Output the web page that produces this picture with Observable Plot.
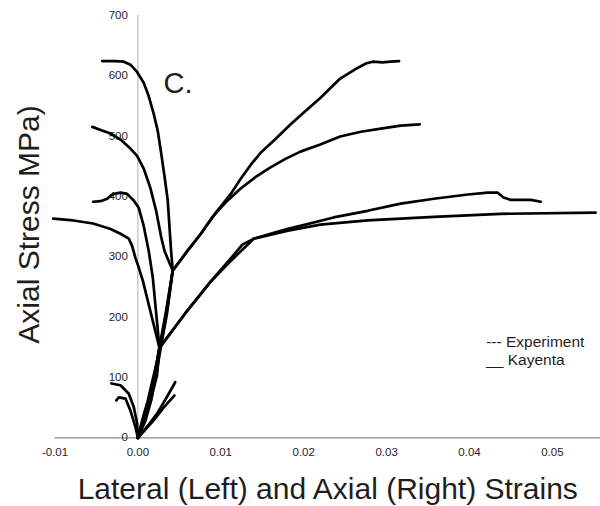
<!DOCTYPE html>
<html>
<head>
<meta charset="utf-8">
<script src="https://cdn.jsdelivr.net/npm/d3@7"></script>
<script src="https://cdn.jsdelivr.net/npm/@observablehq/plot@0.6"></script>
<style>
  html, body { margin: 0; padding: 0; background: #fff; }
  #chart { width: 600px; height: 506px; }
</style>
</head>
<body>
<div id="chart"></div>
<script>
// ---- Data: [strain, axial stress MPa] ----
const axial625 = [[0,0],[0.0007,28],[0.0014,62],[0.0021,103],[0.0026,145],[0.0034,205],[0.0042,277],
  [0.0060,310],[0.0076,338],[0.0094,373],[0.0112,404],[0.0124,429],[0.0136,452],[0.0148,472],
  [0.0166,495],[0.0184,519],[0.0196,534],[0.0220,563],[0.0244,595],[0.0263,611],[0.0275,620],
  [0.0283,623],[0.0295,622],[0.0305,623],[0.0315,624]];
const axial520 = [[0,0],[0.0005,28],[0.0012,62],[0.0019,103],[0.0027,150],[0.0035,210],[0.0042,277],
  [0.0060,310],[0.0076,338],[0.0090,366],[0.0106,390],[0.0124,413],[0.0144,434],[0.0160,448],
  [0.0178,462],[0.0196,474],[0.0220,486],[0.0244,499],[0.0269,507],[0.0293,512],[0.0317,517],[0.0340,519]];
const axial400 = [[0,0],[0.0009,28],[0.0016,62],[0.0022,103],[0.0026,149],[0.0057,206],[0.0088,259],
  [0.0112,297],[0.0126,320],[0.0140,330],[0.0160,338],[0.0181,346],[0.0196,351],[0.0236,365],
  [0.0277,376],[0.0317,388],[0.0357,396],[0.0398,403],[0.0422,406],[0.0434,406],[0.0441,398],
  [0.0450,394],[0.0474,394],[0.0486,391]];
const axial370 = [[0,0],[0.0007,28],[0.0014,62],[0.0021,103],[0.0026,149],[0.0057,206],[0.0088,259],
  [0.0112,293],[0.0140,330],[0.0181,343],[0.0220,353],[0.0277,360],[0.0357,366],[0.0438,371],[0.0552,373]];
const lateral625 = [[0,0],[0.0007,28],[0.0014,62],[0.0022,103],[0.0027,145],[0.0035,205],[0.0042,277],
  [0.0040,310],[0.0038,351],[0.0036,393],[0.0032,434],[0.0028,472],[0.0024,508],[0.0019,537],
  [0.0013,566],[0.0007,588],[-0.0001,606],[-0.0009,618],[-0.0017,623],[-0.0027,624],[-0.0043,624]];
const lateral520 = [[0,0],[0.0006,28],[0.0013,62],[0.0020,103],[0.0026,150],[0.0034,210],[0.0042,277],
  [0.0038,290],[0.0032,310],[0.0028,333],[0.0022,376],[0.0015,414],[0.0007,446],[-0.0001,467],
  [-0.0009,479],[-0.0021,494],[-0.0033,504],[-0.0045,510],[-0.0055,515]];
const lateral400 = [[0,0],[0.0008,28],[0.0015,62],[0.0023,103],[0.0026,149],[0.0018,265],[0.0013,310],
  [0.0007,351],[0.0001,381],[-0.0005,393],[-0.0013,404],[-0.0021,406],[-0.0029,404],[-0.0033,401],
  [-0.0037,396],[-0.0045,392],[-0.0054,391]];
const lateral370 = [[0,0],[0.0006,28],[0.0013,62],[0.0020,103],[0.0026,149],[0.0006,260],[0.0001,282],
  [-0.0003,298],[-0.0007,318],[-0.0011,330],[-0.0021,338],[-0.0033,346],[-0.0054,355],[-0.0078,360],[-0.0102,363]];
const lateralLow90 = [[0,0],[-0.0001,24],[-0.0005,51],[-0.0011,73],[-0.0021,87],[-0.0032,90]];
const lateralLow65 = [[0,0],[-0.0003,18],[-0.0009,45],[-0.0015,65],[-0.0023,67],[-0.0026,62]];
const axialLow90 = [[0,0],[0.0012,20],[0.0024,42],[0.0036,70],[0.0045,92]];
const axialLow65 = [[0,0],[0.0019,29],[0.0031,50],[0.0042,67],[0.0044,70]];

const xTicks = [-0.01, 0, 0.01, 0.02, 0.03, 0.04, 0.05];
const yTicks = [0, 100, 200, 300, 400, 500, 600, 700];
const legendLabels = ["--- Experiment", "__ Kayenta"];

const curves = {axial625, axial520, axial400, axial370, lateral625, lateral520, lateral400, lateral370,
  lateralLow90, lateralLow65, axialLow90, axialLow65};
const table = Object.entries(curves).flatMap(([name, pts]) => pts.map(([x, y]) => ({name, x, y})));

const ink = "#1e1e1e";
const chart = Plot.plot({
  width: 600,
  height: 506,
  marginLeft: 54.5,
  marginRight: 0,
  marginTop: 14.7,
  marginBottom: 68.7,
  x: {domain: [-0.01, 0.0558], axis: null},
  y: {domain: [0, 700], axis: null},
  style: {fontFamily: "'Liberation Sans', Arial, sans-serif", background: "#fff", color: ink},
  marks: [
    Plot.ruleY([0], {stroke: "#8a8a8a", strokeWidth: 1.3}),
    Plot.ruleX([0], {y1: 0, y2: 700, stroke: "#b0b0b0", strokeWidth: 1}),
    Plot.text(xTicks, {x: d => d, y: 0, dy: 15, text: d => d.toFixed(2), fontSize: 11.5, fill: ink}),
    Plot.text(yTicks, {x: 0, y: d => d, dx: -10, text: d => String(d), textAnchor: "end", fontSize: 11.5, fill: ink}),
    Plot.line(table, {x: "x", y: "y", z: "name", stroke: "#000", strokeWidth: 2.7, strokeLinejoin: "round", strokeLinecap: "round"}),
    Plot.text(["Axial Stress MPa)"], {frameAnchor: "left", text: d => d, rotate: -90, dx: -16.5, dy: -2,
      textAnchor: "middle", lineAnchor: "bottom", fontSize: 30, fill: ink}),
    Plot.text(["Lateral (Left) and Axial (Right) Strains"], {frameAnchor: "bottom", text: d => d, dy: 60.7,
      textAnchor: "middle", lineAnchor: "bottom", fontSize: 30, fill: ink}),
    Plot.text(["C."], {frameAnchor: "top-left", text: d => d, dx: 108.5, dy: 77.3, textAnchor: "start",
      lineAnchor: "bottom", fontSize: 29, fill: ink}),
    Plot.text([legendLabels[0]], {frameAnchor: "top-left", text: d => d, dx: 431.2, dy: 332, textAnchor: "start",
      lineAnchor: "bottom", fontSize: 15.5, fill: ink}),
    Plot.text([legendLabels[1]], {frameAnchor: "top-left", text: d => d, dx: 431.2, dy: 349.6, textAnchor: "start",
      lineAnchor: "bottom", fontSize: 15.5, fill: ink})
  ]
});
document.getElementById("chart").appendChild(chart);
</script>
</body>
</html>
